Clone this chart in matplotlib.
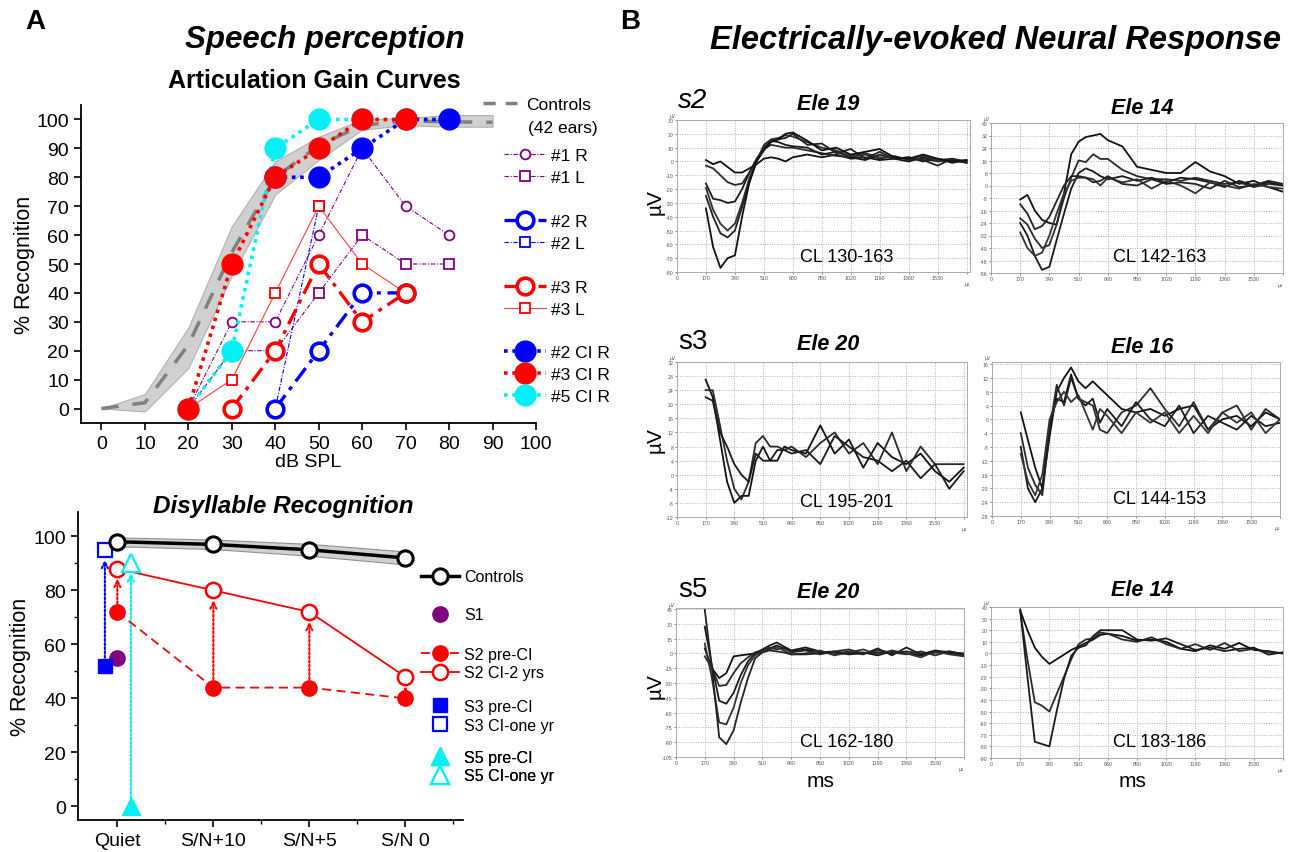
import matplotlib
matplotlib.use("Agg")
import matplotlib.pyplot as plt
from matplotlib.lines import Line2D
import numpy as np

plt.rcParams['font.family'] = ['Liberation Sans', 'DejaVu Sans']

# ---------------- Panel A top: Articulation gain curves ----------------
db_ticks = [0, 10, 20, 30, 40, 50, 60, 70, 80, 90, 100]
ctrl_db = [0, 10, 20, 30, 40, 50, 60, 70, 80, 90]
ctrl_mean = [0, 2, 22, 54, 80, 91, 98, 99.5, 99.2, 99]
ctrl_lo = [0, -1, 14, 46, 74, 86, 96.5, 98, 97.5, 97.5]
ctrl_hi = [0, 5, 28, 63, 85.5, 94, 100, 100.5, 101.5, 101.5]

p1R_db = [20, 30, 40, 50, 60, 70, 80]
p1R = [0, 30, 30, 60, 90, 70, 60]
p1L_db = [20, 30, 40, 50, 60, 70, 80]
p1L = [0, 20, 20, 40, 60, 50, 50]
p2R_db = [40, 50, 60, 70]
p2R = [0, 20, 40, 40]
p2L_db = [40, 50]
p2L = [0, 70]
p3R_db = [30, 40, 50, 60, 70]
p3R = [0, 20, 50, 30, 40]
p3L_db = [20, 30, 40, 50, 60, 70]
p3L = [0, 10, 40, 70, 50, 40]
ci2_db = [40, 50, 60, 70, 80]
ci2 = [80, 80, 90, 100, 100]
ci3_db = [20, 30, 40, 50, 60, 70]
ci3 = [0, 50, 80, 90, 100, 100]
ci5_db = [20, 30, 40, 50, 60]
ci5 = [0, 20, 90, 100, 100]

# ---------------- Panel A bottom: Disyllable recognition ----------------
conditions = ['Quiet', 'S/N+10', 'S/N+5', 'S/N 0']
dis_ctrl = [98, 97, 95, 92]
dis_ctrl_lo = [96.3, 95.3, 92.8, 89.6]
dis_ctrl_hi = [99.6, 98.8, 97.2, 94.4]
s2_pre = [72, 44, 44, 40]
s2_ci = [88, 80, 72, 48]
s1_quiet = 55
s3_pre, s3_ci = 52, 95
s5_pre, s5_ci = 0, 90

# ---------------- Panel B: ECAP waveforms ----------------
wave_t = [170, 212, 255, 297, 340, 382, 425, 467, 510, 552, 595, 637, 680,
          765, 850, 935, 1020, 1105, 1190, 1275, 1360, 1445, 1530, 1615, 1700]
wave_xticks = [0, 170, 340, 510, 680, 850, 1020, 1190, 1360, 1530, 1700]

s2_e19 = [
    [1, -2, 0, -4, -8, -8, -5, -2, 2, 3, 2, 0, 3, 5, 3, 5, 2, 3, 1, 2, 0, 3, 1, 0, 0],
    [-3, -5, -10, -15, -17, -16, -8, 2, 9, 12, 11, 10, 10, 8, 6, 4, 3, 5, 2, 4, 1, 2, 0, 1, -1],
    [-16, -27, -28, -30, -29, -20, -8, 1, 10, 15, 14, 12, 11, 10, 5, 7, 3, 1, 5, 2, 3, 0, 2, -1, 1],
    [-19, -35, -45, -50, -45, -30, -12, 0, 12, 16, 17, 19, 18, 14, 10, 8, 4, 6, 3, 3, 2, 4, 1, 2, 0],
    [-25, -40, -52, -55, -50, -33, -15, 0, 10, 15, 16, 17, 20, 12, 13, 6, 9, 2, 7, 2, 3, 1, -3, 2, -1],
    [-34, -62, -77, -70, -68, -40, -15, 0, 8, 14, 16, 20, 21, 15, 8, 10, 5, 7, 9, 3, 2, 5, 2, 0, 1],
]
s2_e14 = [
    [-9, -6, -16, -22, -24, -25, -5, 20, 28, 31, 32, 33, 29, 25, 12, 10, 8, 8, 15, 9, 6, 1, 3, -1, -4],
    [-21, -25, -34, -40, -38, -25, -8, 5, 16, 15, 20, 17, 17, 10, 6, 4, 4, 3, 5, 3, 1, 2, -1, 1, 0],
    [-24, -32, -45, -54, -52, -35, -18, -2, 8, 11, 9, 6, 4, 6, 3, 5, 2, 5, 4, 2, -1, 3, 0, 2, 0],
    [-30, -40, -45, -43, -32, -18, -5, 3, 5, 5, 4, 0, 5, 2, 4, -2, 3, 0, -5, 2, 0, -2, 1, -1, -2],
    [-12, -18, -28, -26, -20, -10, 0, 6, 6, 5, 2, 3, 6, 1, 0, 4, 1, 2, 1, -2, 3, -1, 0, 3, 1],
]
s3_e20 = [
    [27, 22, 10, -2, -8, -6, -6, 4, 8, 4, 4, 8, 7, 6, 14, 6, 10, 2, 9, 5, 3, 6, 1, -2, 2],
    [24, 24, 14, 4, -4, -7, -2, 9, 11, 8, 8, 7, 8, 5, 9, 12, 6, 9, 3, 12, 1, 8, 3, 3, 3],
    [22, 21, 12, 8, 3, 0, -2, 6, 4, 4, 7, 7, 6, 7, 3, 11, 8, 5, 4, 1, 4, -1, 3, -4, 1],
]
s3_e16 = [
    [2, -6, -14, -20, -5, 8, 12, 15, 11, 9, 11, 9, 7, 3, 2, 3, 1, 3, 4, -3, 0, 1, -2, 2, 0],
    [-4, -14, -19, -22, -3, 10, 4, 12, 6, 5, 4, -3, -4, 2, 4, 9, 3, -2, 5, -3, 2, 4, -3, 3, 0],
    [-8, -20, -24, -20, -2, 6, 5, 13, 6, 4, 6, -1, 3, -2, 5, 0, -2, 4, -4, 1, -1, -3, 1, -2, -1],
    [-10, -18, -22, -16, 0, 5, 8, 5, 7, 2, -3, 3, 1, -4, 2, -1, 2, -4, 1, -4, 2, -1, 2, -4, 0],
]
s5_e20 = [
    [5, -15, -25, -20, -3, -2, -1, 0, 3, 5, 8, 5, 2, 4, 1, 2, 0, 1, -2, 2, 0, -2, 1, 0, -2],
    [-3, -15, -33, -32, -20, -10, -4, 1, 3, 6, 4, 6, 1, 3, -1, 2, 4, 0, 3, 1, -1, 2, -2, 2, -1],
    [27, -12, -48, -51, -40, -22, -8, 0, 4, 8, 11, 7, 3, 6, 2, -1, 2, -1, 5, -2, 6, -1, 3, 1, 0],
    [10, -25, -70, -72, -55, -30, -12, -2, 2, 4, 6, 3, -1, 0, 3, -2, 1, 4, -1, 3, 0, -4, 2, -1, -3],
    [44, -15, -85, -92, -78, -50, -25, -5, 1, 3, 2, 1, -1, -1, 0, 1, -1, 0, 1, 0, 2, 0, 1, 2, -1],
]
s5_e14 = [
    [37, 20, 5, -3, -9, -5, -1, 3, 6, 9, 12, 16, 17, 15, 11, 12, 10, 4, 2, 7, 4, 9, 3, 2, 0],
    [36, -5, -42, -45, -50, -35, -20, -5, 8, 12, 13, 18, 17, 12, 10, 14, 8, 4, 8, 3, 9, 2, 4, 1, 0],
    [38, -20, -76, -78, -80, -50, -22, -2, 5, 7, 15, 20, 20, 20, 12, 11, 13, 8, 3, 5, 2, 4, 5, -1, 1],
]

RED = '#ff0000'
BLUE = '#0000ff'
CYAN = '#00f0f5'
PURPLE = '#800080'
LRED = '#ff4040'

fig = plt.figure(figsize=(12.97, 8.53), dpi=100)

def fx(px):
    return px / 1297.0

def fy(py):
    return 1 - py / 853.0

# ======================= Top chart =======================
ax1 = fig.add_axes([fx(81), fy(424), fx(455), 318 / 853.0])
ax1.fill_between(ctrl_db, ctrl_lo, ctrl_hi, color='#d0d0d0', edgecolor='#b0b0b0', lw=0.8, zorder=1)
ax1.plot(ctrl_db, ctrl_mean, color='#808080', lw=2.5, dashes=(5, 4), zorder=2)

dd = (0, (4, 1.5, 1, 1.5))
ax1.plot(p1R_db, p1R, color=PURPLE, lw=0.8, ls=dd, marker='o', ms=7, mfc='white', mec=PURPLE, mew=1.3, zorder=3)
ax1.plot(p1L_db, p1L, color=PURPLE, lw=0.8, ls=dd, marker='s', ms=6.5, mfc='white', mec=PURPLE, mew=1.3, zorder=3)
ax1.plot(p2L_db, p2L, color=BLUE, lw=0.8, ls=dd, marker='s', ms=6.5, mfc='white', mec=BLUE, mew=1.3, zorder=3)
ax1.plot(p3L_db, p3L, color=LRED, lw=0.8, ls='-', marker='s', ms=6.5, mfc='white', mec=RED, mew=1.3, zorder=3)
ax1.plot(p2R_db, p2R, color=BLUE, lw=2.4, ls=(0, (5, 2, 1.2, 2)), marker='o', ms=12, mfc='white', mec=BLUE, mew=2.6, zorder=4)
ax1.plot(p3R_db, p3R, color=RED, lw=2.4, ls=(0, (5, 2, 1.2, 2)), marker='o', ms=12, mfc='white', mec=RED, mew=2.6, zorder=4)
ax1.plot(ci5_db, ci5, color=CYAN, lw=2.6, ls=(0, (1, 1.3)), marker='o', ms=15, mfc=CYAN, mec=CYAN, zorder=5)
ax1.plot(ci2_db, ci2, color=BLUE, lw=2.6, ls=(0, (1, 1.3)), marker='o', ms=15, mfc=BLUE, mec=BLUE, zorder=5)
ax1.plot(ci3_db, ci3, color=RED, lw=2.6, ls=(0, (1, 1.3)), marker='o', ms=15, mfc=RED, mec=RED, zorder=6)

ax1.set_xlim(-4.7, 100)
ax1.set_ylim(-5, 105)
ax1.set_xticks(db_ticks)
ax1.set_yticks(range(0, 101, 10))
for s in ['top', 'right']:
    ax1.spines[s].set_visible(False)
for s in ['left', 'bottom']:
    ax1.spines[s].set_linewidth(1.3)
ax1.tick_params(direction='out', length=5, width=1.2, labelsize=14)
ax1.set_xlabel('dB SPL', fontsize=14, labelpad=1)
ax1.set_ylabel('% Recognition', fontsize=15.5, labelpad=1)

# legend top
h_ctrl = [Line2D([], [], color='#808080', lw=2.5, dashes=(3.5, 2.9))]
lg0 = ax1.legend(h_ctrl, ['Controls'], loc='center left',
                 bbox_to_anchor=(fx(483), fy(105)), bbox_transform=fig.transFigure,
                 frameon=False, fontsize=12.5, handlelength=1.95, handletextpad=0.55,
                 borderpad=0, borderaxespad=0)
ax1.add_artist(lg0)
fig.text(fx(528), fy(128), '(42 ears)', fontsize=12.5, ha='left', va='center')
blank = Line2D([], [], ls='none')
hs = [
    Line2D([], [], color=PURPLE, lw=0.8, ls=dd, marker='o', ms=7, mfc='white', mec=PURPLE, mew=1.3),
    Line2D([], [], color=PURPLE, lw=0.8, ls=dd, marker='s', ms=6.5, mfc='white', mec=PURPLE, mew=1.3),
    blank,
    Line2D([], [], color=BLUE, lw=2.4, ls=(0, (5, 2, 1.2, 2)), marker='o', ms=12, mfc='white', mec=BLUE, mew=2.6),
    Line2D([], [], color=BLUE, lw=0.8, ls=dd, marker='s', ms=6.5, mfc='white', mec=BLUE, mew=1.3),
    blank,
    Line2D([], [], color=RED, lw=2.4, ls=(0, (5, 2, 1.2, 2)), marker='o', ms=12, mfc='white', mec=RED, mew=2.6),
    Line2D([], [], color=LRED, lw=0.8, ls='-', marker='s', ms=6.5, mfc='white', mec=RED, mew=1.3),
    blank,
    Line2D([], [], color=BLUE, lw=2.6, ls=(0, (1, 1.3)), marker='o', ms=15, mfc=BLUE, mec=BLUE),
    Line2D([], [], color=RED, lw=2.6, ls=(0, (1, 1.3)), marker='o', ms=15, mfc=RED, mec=RED),
    Line2D([], [], color=CYAN, lw=2.6, ls=(0, (1, 1.3)), marker='o', ms=15, mfc=CYAN, mec=CYAN),
]
ls_ = ['#1 R', '#1 L', '', '#2 R', '#2 L', '', '#3 R', '#3 L', '', '#2 CI R', '#3 CI R', '#5 CI R']
ax1.legend(hs, ls_, loc='upper left', bbox_to_anchor=(fx(504), fy(149)),
           bbox_transform=fig.transFigure, frameon=False, fontsize=12.5,
           handlelength=2.4, handletextpad=0.3, labelspacing=0.39,
           borderpad=0, borderaxespad=0)

# ======================= Bottom chart =======================
ax2 = fig.add_axes([fx(78), fy(821), fx(385), 308 / 853.0])
xi = np.arange(len(conditions))
s3_off, s5_off = -0.13, 0.14
ax2.fill_between(xi, dis_ctrl_lo, dis_ctrl_hi, color='#d0d0d0', edgecolor='#909090', lw=0.8, zorder=1)
ax2.plot(xi, dis_ctrl, color='black', lw=2.5, marker='o', ms=11, mfc='white', mec='black', mew=2.2, zorder=6)
ax2.plot(xi, s2_pre, color=RED, lw=1.3, ls=(0, (5, 3)), marker='o', ms=11, mfc=RED, mec=RED, zorder=4)
ax2.plot(xi, s2_ci, color=RED, lw=1.3, ls='-', marker='o', ms=11, mfc='white', mec=RED, mew=1.8, zorder=4)
ax2.plot([0], [s1_quiet], ls='none', marker='o', ms=11, mfc=PURPLE, mec=PURPLE, zorder=3)
ax2.plot([s3_off], [s3_pre], ls='none', marker='s', ms=10, mfc=BLUE, mec=BLUE, zorder=4)
ax2.plot([s3_off], [s3_ci], ls='none', marker='s', ms=10, mfc='white', mec=BLUE, mew=1.6, zorder=4)
ax2.plot([s5_off], [s5_pre], ls='none', marker='^', ms=13, mfc=CYAN, mec=CYAN, zorder=4)
ax2.plot([s5_off], [s5_ci], ls='none', marker='^', ms=13, mfc='white', mec=CYAN, mew=1.6, zorder=4)

def arrow(x, y0, y1, c):
    ax2.annotate('', xy=(x, y1), xytext=(x, y0),
                 arrowprops=dict(arrowstyle='->,head_length=0.45,head_width=0.22', color=c, lw=1.5,
                                 linestyle=(0, (1, 1)), shrinkA=6, shrinkB=7),
                 zorder=2)

for i in range(len(conditions)):
    arrow(xi[i], s2_pre[i], s2_ci[i], RED)
arrow(s3_off, s3_pre, s3_ci, BLUE)
arrow(s5_off, s5_pre, s5_ci, CYAN)

ax2.set_xlim(-0.41, 3.6)
ax2.set_ylim(-5, 109)
ax2.set_xticks(xi)
ax2.set_xticklabels(conditions)
ax2.set_xticks([0.5, 1.5, 2.5, 3.5], minor=True)
ax2.set_yticks(range(0, 101, 20))
ax2.set_yticks(range(10, 101, 20), minor=True)
for s in ['top', 'right']:
    ax2.spines[s].set_visible(False)
for s in ['left', 'bottom']:
    ax2.spines[s].set_linewidth(1.3)
ax2.tick_params(which='major', direction='out', length=5, width=1.2, labelsize=14)
ax2.tick_params(which='minor', direction='out', length=3, width=1.0)
ax2.set_ylabel('% Recognition', fontsize=15.5, labelpad=2)

def small_leg(handles, labels, ycen):
    lg = ax2.legend(handles, labels, loc='center left', bbox_to_anchor=(fx(421), fy(ycen)),
                    bbox_transform=fig.transFigure, frameon=False, fontsize=11.5,
                    handlelength=2.4, handletextpad=0.3, labelspacing=0.25,
                    borderpad=0, borderaxespad=0)
    ax2.add_artist(lg)

small_leg([Line2D([], [], color='black', lw=2.5, marker='o', ms=11, mfc='white', mec='black', mew=2.2)],
          ['Controls'], 578)
small_leg([Line2D([], [], ls='none', marker='o', ms=11, mfc=PURPLE, mec=PURPLE)], ['S1'], 616)
small_leg([Line2D([], [], color=RED, lw=1.3, ls=(0, (5, 3)), marker='o', ms=11, mfc=RED, mec=RED),
           Line2D([], [], color=RED, lw=1.3, ls='-', marker='o', ms=11, mfc='white', mec=RED, mew=1.8)],
          ['S2 pre-CI', 'S2 CI-2 yrs'], 664.5)
small_leg([Line2D([], [], ls='none', marker='s', ms=10, mfc=BLUE, mec=BLUE),
           Line2D([], [], ls='none', marker='s', ms=10, mfc='white', mec=BLUE, mew=1.6)],
          ['S3 pre-CI', 'S3 CI-one yr'], 717)
small_leg([Line2D([], [], ls='none', marker='^', ms=13, mfc=CYAN, mec=CYAN),
           Line2D([], [], ls='none', marker='^', ms=13, mfc='white', mec=CYAN, mew=1.6)],
          ['S5 pre-CI', 'S5 CI-one yr'], 767.5)

# ======================= Panel B waveforms =======================
def wave_panel(rect, traces, ylim, ystep, xmax):
    ax = fig.add_axes(rect)
    shades = ['#111111', '#2a2a2a', '#1a1a1a', '#333333', '#222222', '#111111']
    for k, tr in enumerate(traces):
        ax.plot(wave_t, tr, color=shades[k % len(shades)], lw=1.3)
    ax.set_xlim(0, xmax)
    ax.set_ylim(*ylim)
    yt = np.arange(ylim[0], ylim[1] + 0.01, ystep)
    ax.set_yticks(yt)
    ax.set_yticklabels([f'{int(v)}' for v in yt])
    ax.set_xticks(wave_xticks)
    ax.set_xticklabels([str(v) for v in wave_xticks[:-1]] + [''])
    ax.grid(True, color='#b0b0b0', ls=(0, (1, 1.5)), lw=0.7)
    ax.tick_params(labelsize=3.8, length=1.5, width=0.5, colors='#555555', pad=1)
    for s in ax.spines.values():
        s.set_color('#aaaaaa')
        s.set_linewidth(0.7)
    ax.text(-0.005, 1.01, 'µV', transform=ax.transAxes, fontsize=3.5, color='#555555', ha='right', va='bottom')
    ax.text(1.0, -0.06, 'µs', transform=ax.transAxes, fontsize=3.5, color='#555555', ha='right', va='top')
    return ax

wave_panel([fx(677), fy(273), fx(293), 152 / 853.0], s2_e19, (-80, 30), 10, 1720)
wave_panel([fx(991), fy(274), fx(292), 150 / 853.0], s2_e14, (-56, 40), 8, 1700)
wave_panel([fx(677), fy(518), fx(290), 155 / 853.0], s3_e20, (-12, 32), 4, 1720)
wave_panel([fx(992), fy(517), fx(288), 154 / 853.0], s3_e16, (-28, 16.6), 4, 1700)
wave_panel([fx(676), fy(758), fx(288), 149 / 853.0], s5_e20, (-105, 46), 15, 1700)
wave_panel([fx(991), fy(759), fx(292), 151 / 853.0], s5_e14, (-90, 40), 10, 1700)

# ======================= Texts =======================
def T(x, y, s, **kw):
    fig.text(fx(x), fy(y), s, **kw)

T(35, 22, 'A', fontsize=20, fontweight='bold', ha='center', va='center')
T(630, 22, 'B', fontsize=20, fontweight='bold', ha='center', va='center')
T(325, 40, 'Speech perception', fontsize=22.5, fontweight='bold', style='italic', ha='center', va='center')
T(314, 81, 'Articulation Gain Curves', fontsize=18, fontweight='bold', ha='center', va='center')
T(283, 506, 'Disyllable Recognition', fontsize=17.5, fontweight='bold', style='italic', ha='center', va='center')
T(996, 40, 'Electrically-evoked Neural Response', fontsize=23.5, fontweight='bold', style='italic', ha='center', va='center')

for (x, y, s, it) in [(693, 101, 's2', True), (693, 342, 's3', False), (693, 590, 's5', False)]:
    T(x, y, s, fontsize=20, style='italic' if it else 'normal', ha='center', va='center')

for (x, y, s) in [(828, 104, 'Ele 19'), (1142, 108, 'Ele 14'), (828, 345, 'Ele 20'),
                  (1142, 348, 'Ele 16'), (828, 593, 'Ele 20'), (1142, 590, 'Ele 14')]:
    T(x, y, s, fontsize=15.5, fontweight='bold', style='italic', ha='center', va='center')

for (x, y, s) in [(847, 257, 'CL 130-163'), (1160, 258, 'CL 142-163'), (847, 503, 'CL 195-201'),
                  (1160, 500, 'CL 144-153'), (847, 743, 'CL 162-180'), (1160, 743, 'CL 183-186')]:
    T(x, y, s, fontsize=13, ha='center', va='center')

for y in [202, 440, 686]:
    T(655, y, 'µV', fontsize=15, rotation=90, ha='center', va='center')
for x in [820, 1132]:
    T(x, 782, 'ms', fontsize=15, ha='center', va='center')

fig.savefig('out.png', dpi=100)
